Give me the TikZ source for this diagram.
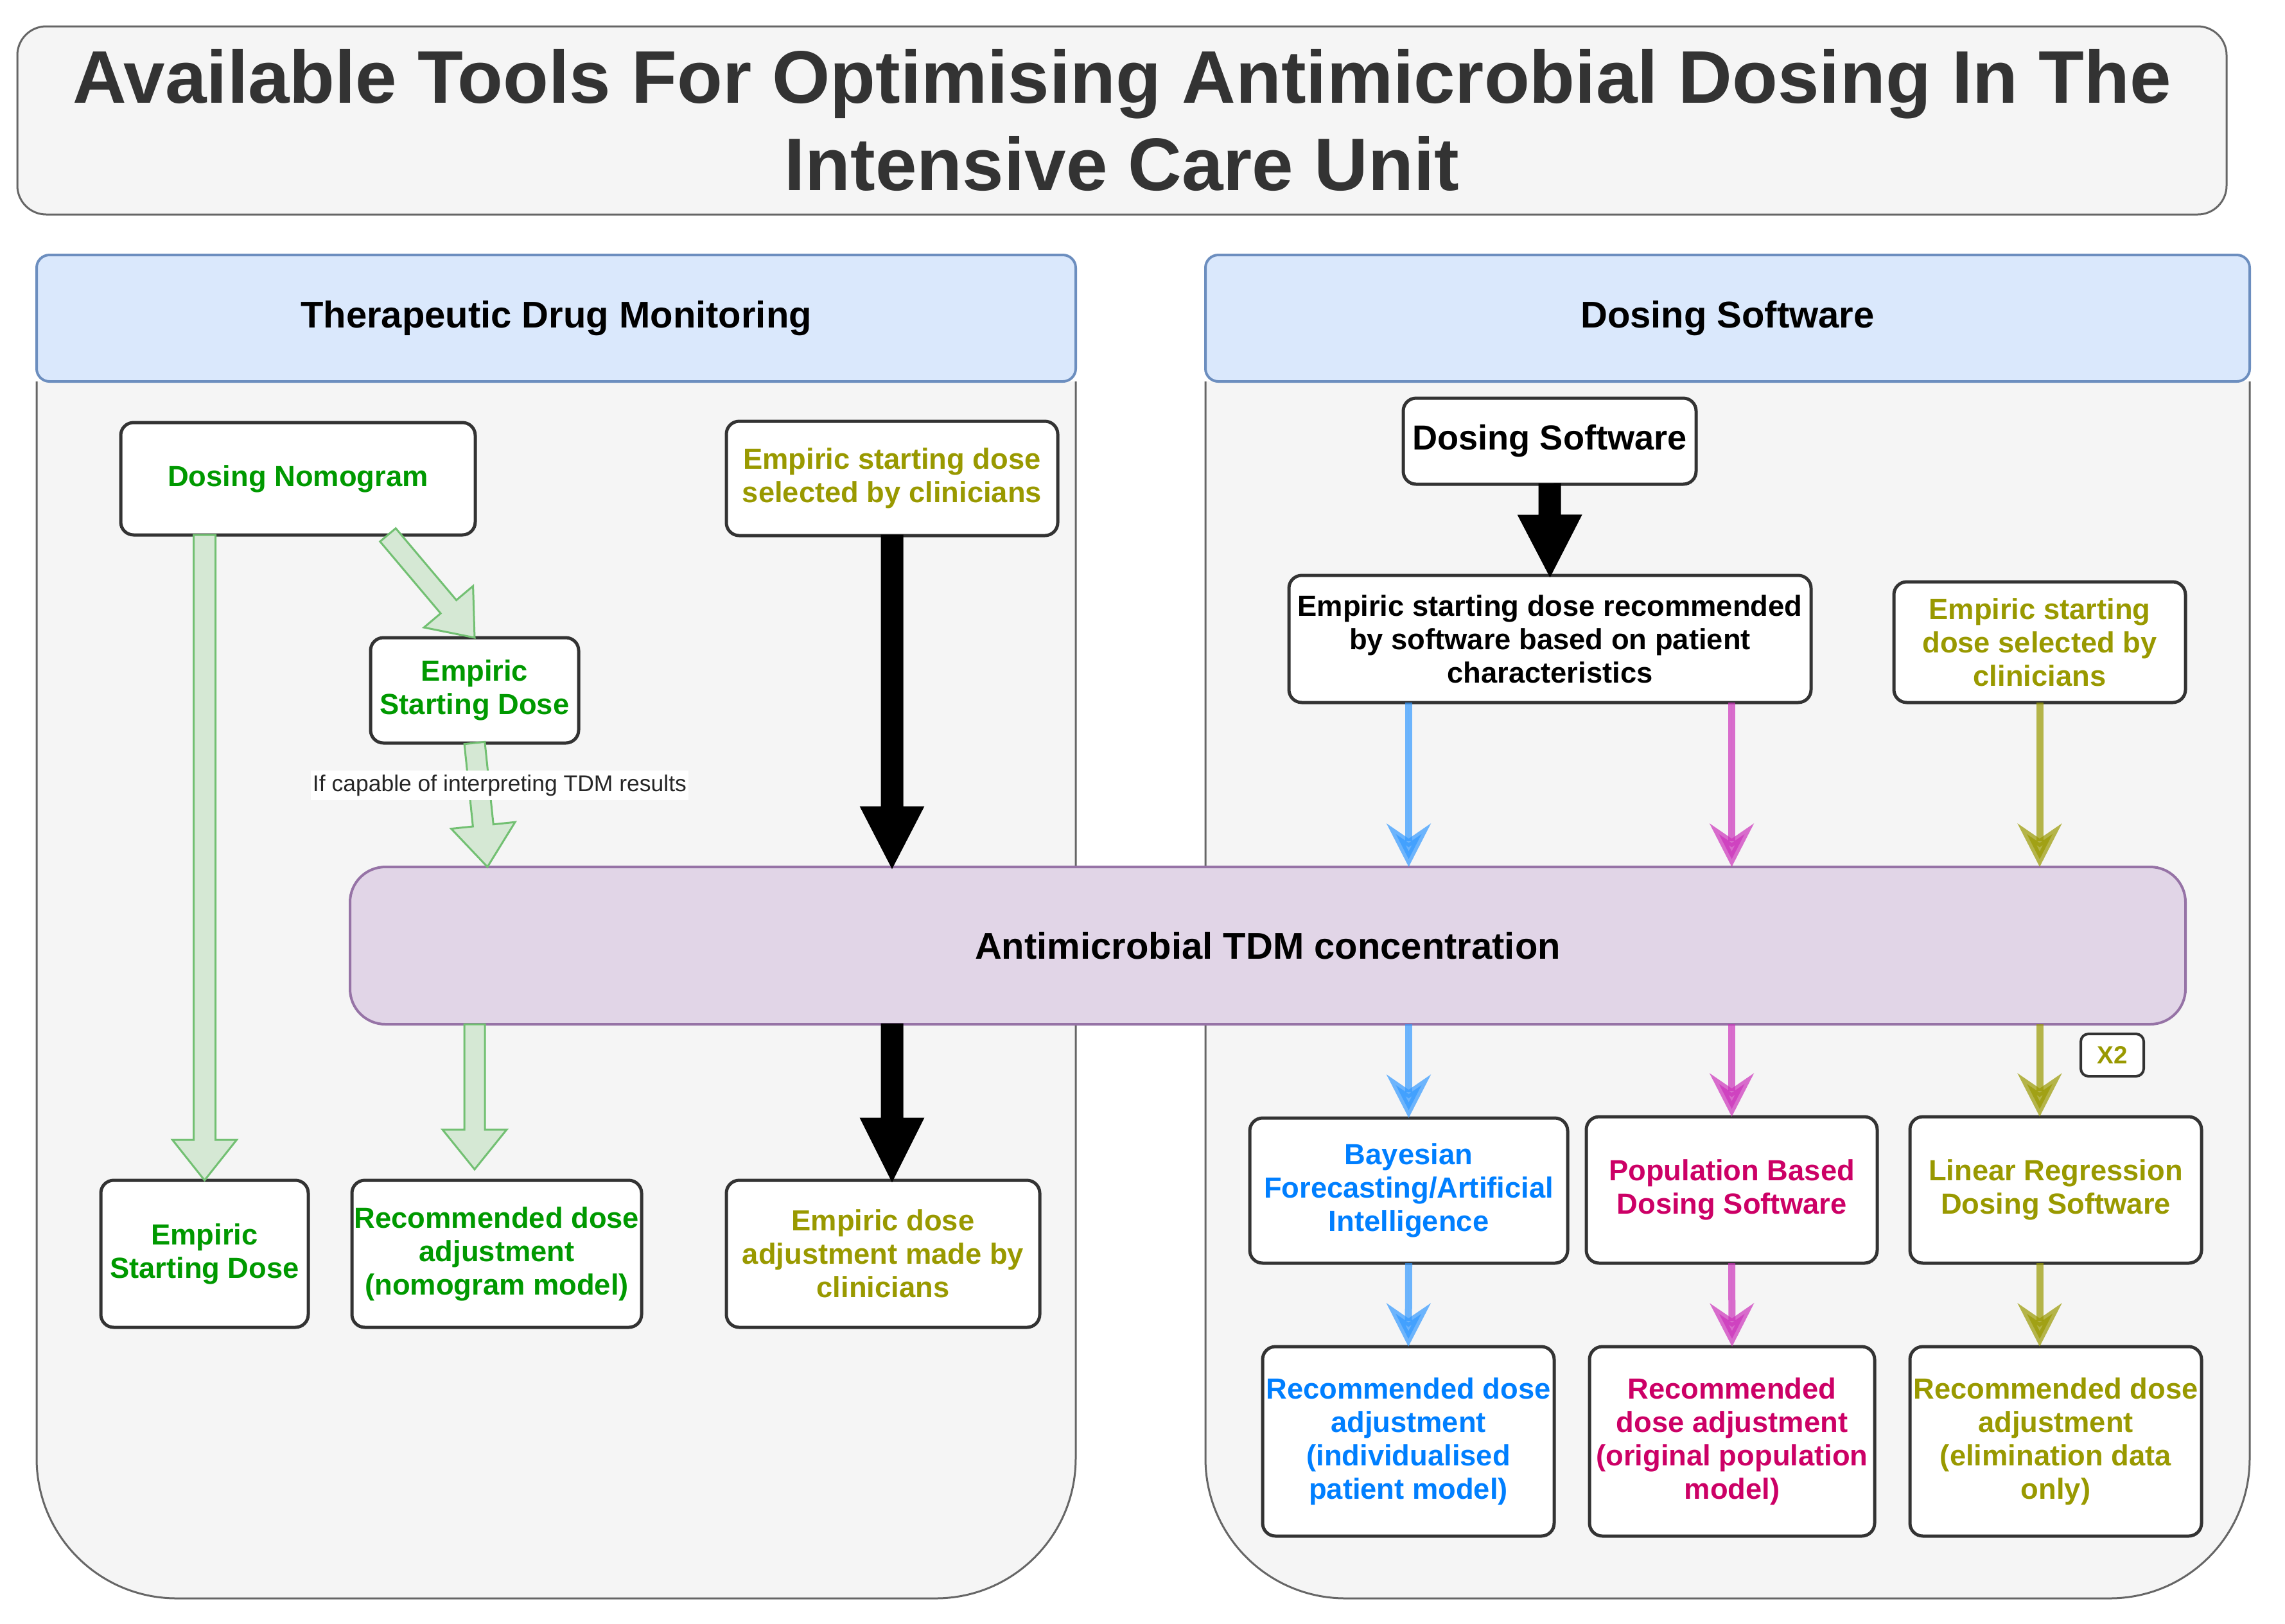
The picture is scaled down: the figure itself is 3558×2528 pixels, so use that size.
\documentclass[tikz,border=0pt]{standalone}
\usepackage{fontspec}
\setmainfont{Liberation Sans}
\usetikzlibrary{calc,arrows.meta}
\definecolor{cGreen}{HTML}{009900}
\definecolor{cOlive}{HTML}{999900}
\definecolor{cBlue}{HTML}{007FFF}
\definecolor{cCrimson}{HTML}{CC0066}
\definecolor{cTitle}{HTML}{333333}
\definecolor{cBoxLine}{HTML}{333333}
\definecolor{cSecFill}{HTML}{F5F5F5}
\definecolor{cSecLine}{HTML}{666666}
\definecolor{cHdrFill}{HTML}{DAE8FC}
\definecolor{cHdrLine}{HTML}{6C8EBF}
\definecolor{cTdmFill}{HTML}{E1D5E7}
\definecolor{cTdmLine}{HTML}{9673A6}
\definecolor{cFlexFill}{HTML}{D5E8D4}
\definecolor{cFlexLine}{HTML}{72C072}
\definecolor{cArrBlue}{HTML}{3399FF}
\definecolor{cArrMag}{HTML}{CC33BB}
\definecolor{cArrOlive}{HTML}{999900}
\newcommand\nodefnt{\fontsize{12.9pt}{14.8pt}\selectfont\bfseries}
\newcommand\hdrfnt{\fontsize{16.5pt}{19pt}\selectfont\bfseries}
\newcommand\dswfnt{\fontsize{15.4pt}{18pt}\selectfont\bfseries}
\newcommand\ttlfnt{\fontsize{33pt}{38.7pt}\selectfont\bfseries}
\newcommand\lblfnt{\fontsize{10.1pt}{12pt}\selectfont}
\newcommand\xtwofnt{\fontsize{11pt}{13pt}\selectfont\bfseries}
\newcommand\bx[7]{\node[#6, minimum width={(#4-#2)*0.1mm}, minimum height={(#5-#3)*0.1mm}] (#1) at ({(#2+#4)/2},{(#3+#5)/2}) {#7};}
\newcommand\flexarr[6]{%
  \coordinate (fa) at #2; \coordinate (fb) at #3;
  \coordinate (fh) at ($(fb)!#6!(fa)$);
  \draw[#1] ($(fa)!#4!90:(fb)$) -- ($(fh)!#4!90:(fb)$) -- ($(fh)!#5!90:(fb)$) -- (fb)
    -- ($(fh)!#5!-90:(fb)$) -- ($(fh)!#4!-90:(fb)$) -- ($(fa)!#4!-90:(fb)$) -- cycle;}
\tikzset{
  box/.style={draw=cBoxLine, line width=0.5mm, fill=white, rounded corners=2mm,
    inner sep=0pt, outer sep=0pt, align=center, font=\nodefnt},
  gbox/.style={box, text=cGreen},
  obox/.style={box, text=cOlive},
  bbox/.style={box, text=cBlue},
  cbox/.style={box, text=cCrimson},
  kbox/.style={box, text=black},
  titlebox/.style={draw=cSecLine, line width=0.3mm, fill=cSecFill, rounded corners=4.5mm,
    inner sep=0pt, outer sep=0pt, align=center, font=\ttlfnt, text=cTitle},
  hdr/.style={draw=cHdrLine, line width=0.4mm, fill=cHdrFill, rounded corners=2mm,
    inner sep=0pt, outer sep=0pt, align=center, font=\hdrfnt, text=black},
  secbody/.style={draw=cSecLine, line width=0.3mm, fill=cSecFill},
  tdmbox/.style={draw=cTdmLine, line width=0.4mm, fill=cTdmFill, rounded corners=5.5mm,
    inner sep=0pt, outer sep=0pt, align=center, font=\hdrfnt, text=black},
  flexg/.style={draw=cFlexLine, line width=0.3mm, fill=cFlexFill, line join=miter},
  flexk/.style={draw=black, line width=0.3mm, fill=black},
  thinarr/.style={line width=1.1mm, opacity=0.7,
    -{Stealth[length=6.7mm, width=6.8mm, inset=2.3mm]}},
  barr/.style={thinarr, draw=cArrBlue, fill=cArrBlue},
  marr/.style={thinarr, draw=cArrMag, fill=cArrMag},
  oarr/.style={thinarr, draw=cArrOlive, fill=cArrOlive},
  lbl/.style={fill=white, inner xsep=0.3mm, inner ysep=0.6mm, font=\lblfnt, text=black!85},
}
\begin{document}
\begin{tikzpicture}[x=0.1mm, y=-0.1mm]
\useasboundingbox (0,0) rectangle (3558,2528);
\fill[white] (0,0) rectangle (3558,2528);

% title
\bx{title}{27}{41}{3467}{334}{titlebox}{Available Tools For Optimising Antimicrobial Dosing In The\\Intensive Care Unit}

% section bodies
\draw[secbody] (57,594) [rounded corners=62pt] -- (57,2489) -- (1675,2489) -- (1675,594);
\draw[secbody] (1877,594) [rounded corners=62pt] -- (1877,2489) -- (3503,2489) -- (3503,594);
\bx{hdrL}{57}{397}{1675}{594}{hdr}{Therapeutic Drug Monitoring}
\bx{hdrR}{1877}{397}{3503}{594}{hdr}{Dosing Software}

% left nodes
\bx{nomo}{188}{658}{740}{833}{gbox}{Dosing Nomogram}
\bx{esL}{1131}{656}{1647}{834}{obox}{Empiric starting dose\\selected by clinicians}
\bx{es2}{577}{993}{901}{1157}{gbox}{Empiric\\Starting Dose}
\bx{es3}{157}{1838}{480}{2067}{gbox}{Empiric\\Starting Dose}
\bx{recnomo}{548}{1838}{999}{2067}{gbox}{Recommended dose\\adjustment\\(nomogram model)}
\bx{empadj}{1131}{1838}{1619}{2067}{obox}{Empiric dose\\adjustment made by\\clinicians}

% right nodes
\bx{dsw}{2185}{620}{2641}{754}{kbox}{\dswfnt Dosing Software}
\bx{emprec}{2007}{896}{2820}{1094}{kbox}{Empiric starting dose recommended\\by software based on patient\\characteristics}
\bx{esR}{2949}{906}{3403}{1094}{obox}{Empiric starting\\dose selected by\\clinicians}
\bx{bayes}{1946}{1741}{2441}{1967}{bbox}{Bayesian\\Forecasting/Artificial\\Intelligence}
\bx{pop}{2470}{1739}{2923}{1967}{cbox}{Population Based\\Dosing Software}
\bx{lin}{2974}{1739}{3428}{1967}{obox}{Linear Regression\\Dosing Software}
\bx{bayesrec}{1966}{2097}{2420}{2392}{bbox}{Recommended dose\\adjustment\\(individualised\\patient model)}
\bx{poprec}{2475}{2097}{2919}{2392}{cbox}{Recommended\\dose adjustment\\(original population\\model)}
\bx{linrec}{2974}{2097}{3428}{2392}{obox}{Recommended dose\\adjustment\\(elimination data\\only)}
\bx{xtwo}{3240}{1610}{3338}{1676}{obox, rounded corners=1.2mm, line width=0.4mm}{\xtwofnt X2}

% central TDM box
\bx{tdm}{545}{1350}{3403}{1595}{tdmbox}{Antimicrobial TDM concentration}

% green flex arrows
\flexarr{flexg}{(nomo.south -| es3)}{(es3.north)}{1.7mm}{5mm}{6.3mm}
\flexarr{flexg}{($(nomo.south)+(140,0)$)}{(es2.north)}{1.6mm}{5mm}{6.3mm}
\flexarr{flexg}{(es2.south)}{($(es2.south |- tdm.north)+(20,0)$)}{1.6mm}{5mm}{6.5mm}
\flexarr{flexg}{(tdm.south -| es2)}{($(recnomo.north -| es2)+(0,-17)$)}{1.6mm}{5mm}{6.2mm}
\node[lbl] (cond) at (778,1223) {If capable of interpreting TDM results};

% black arrows
\flexarr{flexk}{(esL.south)}{(esL.south |- tdm.north)}{1.6mm}{4.8mm}{9.3mm}
\flexarr{flexk}{(tdm.south -| esL)}{(empadj.north -| esL)}{1.6mm}{4.8mm}{9.6mm}
\flexarr{flexk}{(dsw.south)}{(emprec.north)}{1.6mm}{4.8mm}{9.3mm}

% thin coloured arrows
\draw[barr] (emprec.south -| bayes) -- (tdm.north -| bayes);
\draw[marr] (emprec.south -| pop) -- (tdm.north -| pop);
\draw[oarr] (esR.south) -- (tdm.north -| esR);
\draw[barr] (tdm.south -| bayes) -- (bayes.north);
\draw[marr] (tdm.south -| pop) -- (pop.north);
\draw[oarr] (tdm.south -| esR) -- (lin.north -| esR);
\draw[barr] (bayes.south) -- (bayesrec.north);
\draw[marr] (pop.south) -- (poprec.north);
\draw[oarr] (lin.south -| esR) -- (linrec.north -| esR);
\end{tikzpicture}
\end{document}
